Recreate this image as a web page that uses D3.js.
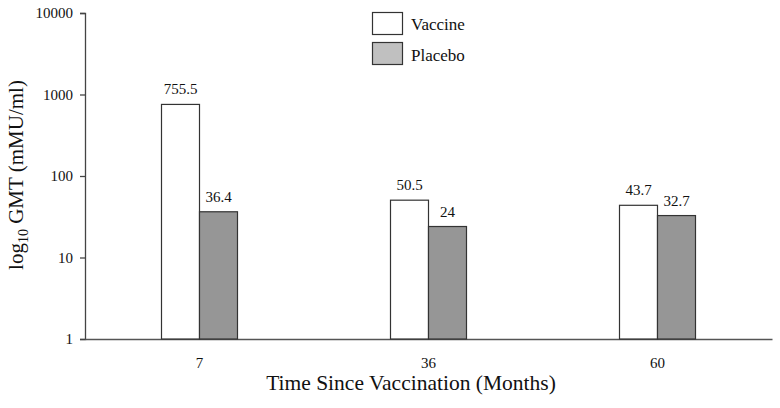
<!DOCTYPE html>
<html><head><meta charset="utf-8">
<script src="https://cdn.jsdelivr.net/npm/d3@7"></script>
<style>body{margin:0;background:#fff}svg{display:block}text{font-family:"Liberation Serif","Times New Roman",serif;fill:#111}</style>
</head><body><svg id="c" width="780" height="408"></svg>
<script>
const categories = ["7", "36", "60"];
const seriesNames = ["Vaccine", "Placebo"];
const vaccine = [755.5, 50.5, 43.7];
const placebo = [36.4, 24, 32.7];
const vaccineLabels = ["755.5", "50.5", "43.7"];
const placeboLabels = ["36.4", "24", "32.7"];
const yTicks = [1, 10, 100, 1000, 10000];
const yTickLabels = ["1", "10", "100", "1000", "10000"];

const svg = d3.select("#c");
const x = d3.scaleBand().domain(categories).range([85, 772]).padding(0);
const sub = d3.scaleBand().domain(seriesNames).range([0, 76]);
const y = d3.scaleLog().domain([1, 10000]).range([339, 13]);
const fills = {Vaccine: "#ffffff", Placebo: "#969696"};
const legendFills = {Vaccine: "#ffffff", Placebo: "#c0c0c0"};

// y axis
const yAxis = d3.axisLeft(y).tickValues(yTicks).tickFormat((d,i)=>yTickLabels[i]).tickSize(5).tickPadding(7);
const gy = svg.append("g").attr("transform","translate(85,0)").call(yAxis);
gy.select(".domain").attr("stroke","#444").attr("stroke-width",1.3);
gy.selectAll(".tick line").attr("stroke","#444").attr("stroke-width",1.3);
gy.selectAll(".tick text").style("font-size","15px").style("font-family","Liberation Serif").attr("fill","#111");

// x axis baseline
const xAxis = d3.axisBottom(x).tickSize(0).tickPadding(18);
const gx = svg.append("g").attr("transform","translate(0,339)").call(xAxis);
gx.select(".domain").attr("stroke","#555").attr("stroke-width",1.3);
gx.selectAll(".tick text").style("font-size","15px").style("font-family","Liberation Serif").attr("fill","#111");

const rows = categories.map((c,i)=>({c, vals:[{s:"Vaccine",v:vaccine[i],l:vaccineLabels[i]},{s:"Placebo",v:placebo[i],l:placeboLabels[i]}]}));
const groups = svg.append("g").selectAll("g").data(rows).join("g")
  .attr("transform", d=>`translate(${x(d.c)+x.bandwidth()/2-38},0)`);
groups.selectAll("rect").data(d=>d.vals).join("rect")
  .attr("x", d=>sub(d.s)).attr("width", sub.bandwidth())
  .attr("y", d=>y(d.v)).attr("height", d=>y(1)-y(d.v))
  .attr("fill", d=>fills[d.s]).attr("stroke","#333").attr("stroke-width",1.2);
groups.selectAll("text").data(d=>d.vals).join("text")
  .attr("x", d=>sub(d.s)+sub.bandwidth()/2).attr("y", d=>y(d.v)-10)
  .attr("text-anchor","middle").style("font-size","15px").text(d=>d.l);

// legend
const lg = svg.append("g");
seriesNames.forEach((s,i)=>{
  lg.append("rect").attr("x",372.5).attr("y",12.5+i*30).attr("width",30).attr("height",22)
    .attr("fill",legendFills[s]).attr("stroke","#333").attr("stroke-width",1.2);
  lg.append("text").attr("x",411).attr("y",30+i*31).style("font-size","17px").text(s);
});

// axis titles
svg.append("text").attr("x",411).attr("y",390).attr("text-anchor","middle").style("font-size","21.5px").text("Time Since Vaccination (Months)");
const yt = svg.append("text").attr("transform","translate(23,175) rotate(-90)").attr("text-anchor","middle").style("font-size","21px");
yt.append("tspan").text("log");
yt.append("tspan").attr("dy",5).style("font-size","14px").text("10");
yt.append("tspan").attr("dy",-5).text(" GMT (mMU/ml)");
</script></body></html>
